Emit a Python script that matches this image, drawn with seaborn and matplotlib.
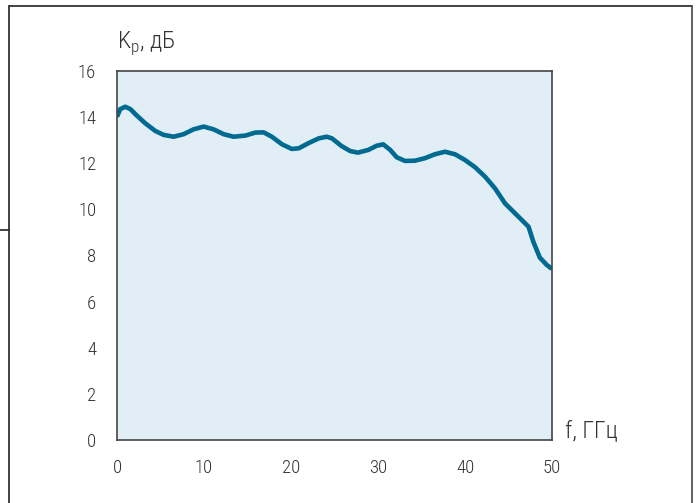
import matplotlib
matplotlib.use("Agg")
import matplotlib.pyplot as plt
from matplotlib.lines import Line2D
from matplotlib import font_manager
import seaborn as sns
import pandas as pd

freq_ghz = [0, 0.38, 0.95, 1.53, 2.3, 3.26, 4.4, 5.36, 6.5, 7.66, 8.8, 9.96,
            11.1, 12.26, 13.4, 14.75, 15.9, 16.86, 17.8, 18.97, 20.1, 20.9,
            22.0, 23.2, 24.1, 24.7, 25.8, 26.8, 27.7, 28.9, 29.85, 30.6, 31.4,
            32.15, 33.1, 34.25, 35.4, 36.55, 37.7, 38.85, 40.0, 41.15, 42.3,
            43.45, 44.6, 45.75, 46.9, 47.3, 47.85, 48.6, 49.4, 50.0]
gain_db = [14.02, 14.35, 14.45, 14.35, 14.06, 13.73, 13.4, 13.23, 13.15,
           13.26, 13.47, 13.59, 13.47, 13.26, 13.15, 13.2, 13.33, 13.34,
           13.15, 12.82, 12.62, 12.65, 12.87, 13.08, 13.15, 13.08, 12.75,
           12.53, 12.46, 12.58, 12.76, 12.82, 12.58, 12.26, 12.1, 12.11,
           12.22, 12.39, 12.5, 12.39, 12.14, 11.83, 11.42, 10.91, 10.26,
           9.83, 9.4, 9.25, 8.6, 7.91, 7.59, 7.42]
x_ticks = [0, 10, 20, 30, 40, 50]
y_ticks = [0, 2, 4, 6, 8, 10, 12, 14, 16]

sns.set_style("white")
available = {f.name for f in font_manager.fontManager.ttflist}
fam = [f for f in ["Roboto Condensed", "Liberation Sans Narrow", "Roboto",
                   "DejaVu Sans"] if f in available]
plt.rcParams["font.family"] = fam
plt.rcParams["font.weight"] = "light"
plt.rcParams["mathtext.fontset"] = "custom"
plt.rcParams["mathtext.rm"] = fam[0] + ":light"

df = pd.DataFrame({"f": freq_ghz, "K": gain_db})

fig = plt.figure(figsize=(6.98, 5.03), dpi=100)
ax = fig.add_axes([117 / 698, 63 / 503, 435 / 698, 369 / 503])
ax.set_facecolor("#e2eef5")

sns.lineplot(data=df, x="f", y="K", ax=ax, color="#006a91", linewidth=3.3,
             solid_capstyle="butt", solid_joinstyle="round", clip_on=True)

ax.set_xlim(0, 50)
ax.set_ylim(0, 16)
ax.set_xticks(x_ticks)
ax.set_yticks(y_ticks)
ax.set_xlabel("")
ax.set_ylabel("")
for s in ax.spines.values():
    s.set_color("#444444")
    s.set_linewidth(1.2)
ax.tick_params(axis="both", direction="out", length=6, width=1.2,
               color="#444444", labelsize=13.5, labelcolor="#333333")
ax.tick_params(axis="x", pad=8)
ax.tick_params(axis="y", pad=9)

fig.text(117 / 698, 1 - 43 / 503, "K$_\\mathregular{p}$, дБ", fontsize=17.5,
         color="#333333", va="center", ha="left")
fig.text(565 / 698, 1 - 431 / 503, "f, ГГц", fontsize=17.5,
         color="#333333", va="center", ha="left")

# outer frame lines
lc = "#333333"
fig.add_artist(Line2D([9 / 698, 692 / 698], [1 - 6 / 503, 1 - 6 / 503],
                      transform=fig.transFigure, color=lc, lw=1.3))
fig.add_artist(Line2D([9 / 698, 9 / 698], [1 - 6 / 503, 0],
                      transform=fig.transFigure, color=lc, lw=1.3))
fig.add_artist(Line2D([692 / 698, 692 / 698], [1 - 6 / 503, 0],
                      transform=fig.transFigure, color="#555555", lw=1.3))
fig.add_artist(Line2D([0, 9 / 698], [1 - 230 / 503, 1 - 230 / 503],
                      transform=fig.transFigure, color=lc, lw=1.3))

fig.savefig("out.png", dpi=100)
